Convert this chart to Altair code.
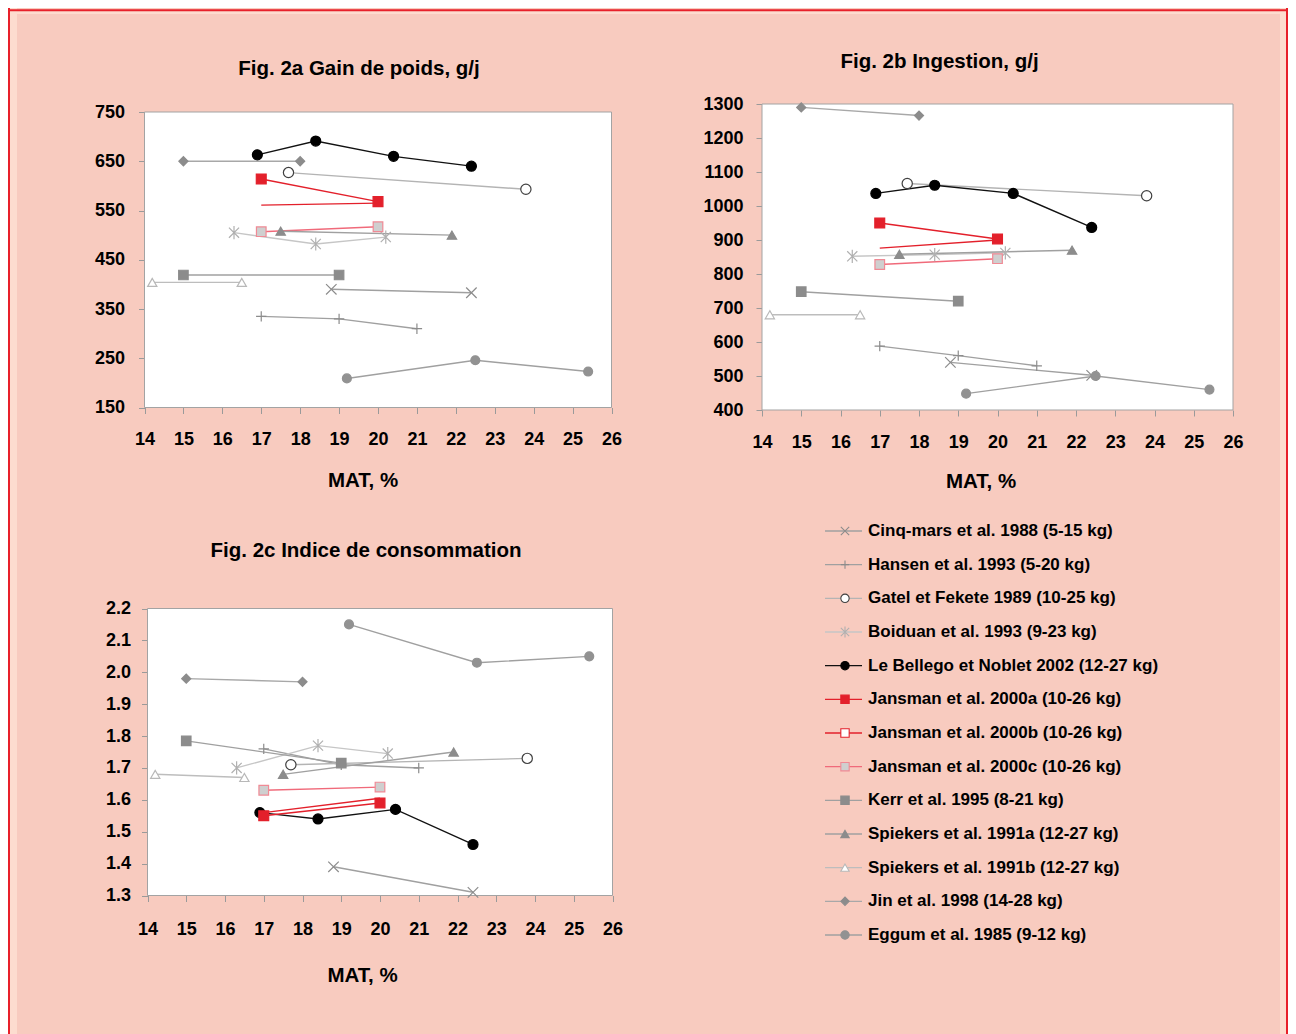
import altair as alt
import pandas as pd

# ---------------- data ----------------
SERIES = [
    "Cinq-mars et al. 1988 (5-15 kg)",
    "Hansen et al. 1993 (5-20 kg)",
    "Gatel et Fekete 1989 (10-25 kg)",
    "Boiduan et al. 1993 (9-23 kg)",
    "Le Bellego et Noblet 2002 (12-27 kg)",
    "Jansman et al. 2000a (10-26 kg)",
    "Jansman et al. 2000b (10-26 kg)",
    "Jansman et al. 2000c (10-26 kg)",
    "Kerr et al. 1995 (8-21 kg)",
    "Spiekers et al. 1991a (12-27 kg)",
    "Spiekers et al. 1991b (12-27 kg)",
    "Jin et al. 1998 (14-28 kg)",
    "Eggum et al. 1985 (9-12 kg)",
]
MAT = [
    [18.8, 22.4],
    [17.0, 19.0, 21.0],
    [17.7, 23.8],
    [16.3, 18.4, 20.2],
    [16.9, 18.4, 20.4, 22.4],
    [17.0, 20.0],
    [17.0, 20.0],
    [17.0, 20.0],
    [15.0, 19.0],
    [17.5, 21.9],
    [14.2, 16.5],
    [15.0, 18.0],
    [19.2, 22.5, 25.4],
]
GAIN = [
    [390, 383],
    [335, 330, 310],
    [627, 593],
    [505, 482, 496],
    [663, 691, 660, 640],
    [614, 568],
    [561, 565],
    [507, 517],
    [419, 419],
    [508, 500],
    [404, 404],
    [650, 650],
    [209, 246, 223],
]
INGESTION = [
    [540, 502],
    [588, 560, 530],
    [1066, 1030],
    [852, 857, 862],
    [1037, 1061, 1037, 937],
    [950, 903],
    [876, 900],
    [828, 845],
    [748, 720],
    [858, 870],
    [680, 680],
    [1290, 1266],
    [448, 500, 460],
]
IC = [
    [1.39, 1.31],
    [1.76, 1.71, 1.70],
    [1.71, 1.73],
    [1.70, 1.77, 1.745],
    [1.56, 1.54, 1.57, 1.46],
    [1.55, 1.59],
    [1.56, 1.605],
    [1.63, 1.64],
    [1.785, 1.715],
    [1.68, 1.75],
    [1.68, 1.67],
    [1.98, 1.97],
    [2.15, 2.03, 2.05],
]
X_DOMAIN = [14, 26]
X_TICKS = list(range(14, 27))
Y_TICKS_A = [150, 250, 350, 450, 550, 650, 750]
Y_TICKS_B = [400, 500, 600, 700, 800, 900, 1000, 1100, 1200, 1300]
Y_TICKS_C = [1.3, 1.4, 1.5, 1.6, 1.7, 1.8, 1.9, 2.0, 2.1, 2.2]
TITLES = ["Fig. 2a Gain de poids, g/j", "Fig. 2b Ingestion, g/j",
          "Fig. 2c Indice de consommation"]
X_TITLE = "MAT, %"
NO_MARKER_IN_PLOTS = ["Jansman et al. 2000b (10-26 kg)"]

# ---------------- styles ----------------
XMARK = "M-1,-1L1,1M-1,1L1,-1"
PLUS = "M-1,0L1,0M0,-1L0,1"
STAR = "M-1,-1L1,1M-1,1L1,-1M0,-1.3L0,1.3"
LINE_COLOR = ["#a0a0a0", "#a0a0a0", "#b4b4b4", "#c6c6c6", "#111111", "#e3202b",
              "#e3202b", "#f06a7a", "#a0a0a0", "#a0a0a0", "#bdbdbd", "#a8a8a8", "#a0a0a0"]
LINE_WIDTH = [1.4, 1.4, 1.4, 1.4, 2.3, 1.7, 1.7, 1.7, 1.4, 1.4, 1.4, 1.4, 1.4]
SHAPE = [XMARK, PLUS, "circle", STAR, "circle", "square", "square", "square",
         "square", "triangle-up", "triangle-up", "diamond", "circle"]
FILL = ["#8c8c8c", "#8c8c8c", "#ffffff", "#b0b0b0", "#000000", "#e3202b", "#ffffff",
        "#cfcfcf", "#8c8c8c", "#8c8c8c", "#ffffff", "#8c8c8c", "#929292"]
STROKE = ["#8c8c8c", "#8c8c8c", "#404040", "#b0b0b0", "#000000", "#e3202b", "#e3202b",
          "#f08a95", "#8c8c8c", "#8c8c8c", "#b8b8b8", "#8c8c8c", "#929292"]
SIZE = [110, 80, 140, 110, 190, 115, 100, 115, 115, 120, 120, 100, 190]

PINK = "#f8cbbf"
LIGHT = "#fddccf"
RED = "#e8202a"
FONT = "Liberation Sans"
W, H = 1280, 1026

color_s = alt.Scale(domain=SERIES, range=LINE_COLOR)
sw_s = alt.Scale(domain=SERIES, range=LINE_WIDTH)
shape_s = alt.Scale(domain=SERIES, range=SHAPE)
fill_s = alt.Scale(domain=SERIES, range=FILL)
stroke_s = alt.Scale(domain=SERIES, range=STROKE)
size_s = alt.Scale(domain=SERIES, range=SIZE)


def long_table(values):
    rows = []
    for i, name in enumerate(SERIES):
        for x, v in zip(MAT[i], values[i]):
            rows.append({"series": name, "MAT": x, "v": v})
    return pd.DataFrame(rows)


def panel(values, yticks, xr, yr, xaxis_y, x_title_xy, y_title, y_title_xy,
          xlabpad, ylabpad, fmt):
    df = long_table(values)
    xs = alt.Scale(domain=X_DOMAIN, range=xr, nice=False, zero=False)
    ys = alt.Scale(domain=[yticks[0], yticks[-1]], range=yr, nice=False, zero=False)
    ax_x = alt.Axis(orient="bottom", offset=xaxis_y - H, values=X_TICKS, format="d",
                    labelFlush=False, labelOverlap=False, labelBaseline="middle",
                    labelPadding=xlabpad, tickSize=6, title=X_TITLE,
                    titleX=x_title_xy[0], titleY=x_title_xy[1], titleAlign="center",
                    titleBaseline="middle", titleAngle=0)
    ax_y = alt.Axis(orient="left", offset=-xr[0], values=yticks, format=fmt,
                    labelOverlap=False, labelPadding=ylabpad, tickSize=6,
                    title=y_title, titleAngle=0, titleX=y_title_xy[0],
                    titleY=y_title_xy[1], titleAlign="center", titleBaseline="middle")
    frame = pd.DataFrame({"x": [X_DOMAIN[0]], "x2": [X_DOMAIN[1]],
                          "y": [yticks[0]], "y2": [yticks[-1]]})
    bg = alt.Chart(frame).mark_rect(fill="white", stroke="#a3a3a3", strokeWidth=1).encode(
        x=alt.X("x:Q", scale=xs, axis=ax_x), x2="x2:Q",
        y=alt.Y("y:Q", scale=ys, axis=ax_y), y2="y2:Q")
    lines = alt.Chart(df).mark_line().encode(
        x=alt.X("MAT:Q", scale=xs, axis=ax_x),
        y=alt.Y("v:Q", scale=ys, axis=ax_y),
        color=alt.Color("series:N", scale=color_s, legend=None),
        strokeWidth=alt.StrokeWidth("series:N", scale=sw_s, legend=None))
    pts = alt.Chart(df[~df["series"].isin(NO_MARKER_IN_PLOTS)]).mark_point(
        filled=True, opacity=1, strokeWidth=1.2).encode(
        x=alt.X("MAT:Q", scale=xs, axis=ax_x),
        y=alt.Y("v:Q", scale=ys, axis=ax_y),
        shape=alt.Shape("series:N", scale=shape_s, legend=None),
        fill=alt.Fill("series:N", scale=fill_s, legend=None),
        stroke=alt.Stroke("series:N", scale=stroke_s, legend=None),
        size=alt.Size("series:N", scale=size_s, legend=None))
    return alt.layer(bg, lines, pts)


pa = panel(GAIN, Y_TICKS_A, [136.5, 603.5], [399.5, 104], 399.5, (354.5, 72.5),
           TITLES[0], (214, 60), 25.5, 14, "d")
pb = panel(INGESTION, Y_TICKS_B, [754, 1225], [402, 96], 402, (972.5, 71),
           TITLES[1], (177, 53), 26, 13, "d")
pc = panel(IC, Y_TICKS_C, [139.5, 604.5], [887.5, 600.5], 887.5, (354, 80),
           TITLES[2], (218, 542), 27.5, 11, ".1f")

# ---------------- legend ----------------
leg_df = pd.DataFrame({"series": SERIES})
ly = alt.Y("series:N", scale=alt.Scale(type="point", domain=SERIES, range=[523, 927],
                                      padding=0), axis=None)
leg_rule = alt.Chart(leg_df).mark_rule().encode(
    x=alt.value(817), x2=alt.value(854), y=ly,
    color=alt.Color("series:N", scale=color_s, legend=None),
    strokeWidth=alt.StrokeWidth("series:N", scale=sw_s, legend=None))
leg_pts = alt.Chart(leg_df).mark_point(filled=True, opacity=1, strokeWidth=1.1).encode(
    x=alt.value(837), y=ly,
    shape=alt.Shape("series:N", scale=shape_s, legend=None),
    fill=alt.Fill("series:N", scale=fill_s, legend=None),
    stroke=alt.Stroke("series:N", scale=stroke_s, legend=None),
    size=alt.value(70))
leg_txt = alt.Chart(leg_df).mark_text(
    align="left", baseline="middle", font=FONT, fontWeight="bold", fontSize=17,
    color="black").encode(x=alt.value(860), y=ly, text="series:N")
legend = alt.layer(leg_rule, leg_pts, leg_txt)

# ---------------- frame ----------------
one = alt.Data(values=[{}])


def vrule(x, color, w):
    return alt.Chart(one).mark_rule(color=color, strokeWidth=w).encode(
        x=alt.value(x), y=alt.value(0), y2=alt.value(H))


def hrule(y, color, w, x0, x1):
    return alt.Chart(one).mark_rule(color=color, strokeWidth=w).encode(
        y=alt.value(y), x=alt.value(x0), x2=alt.value(x1))


borders = [
    vrule(5.5, LIGHT, 7), vrule(1275, LIGHT, 6), hrule(4.6, LIGHT, 2.7, 2, 1278),
    vrule(1, RED, 2), vrule(1279, RED, 2), hrule(2.3, RED, 2, 0, 1280),
]

chart = alt.layer(*borders, pa, pb, pc, legend).resolve_scale(
    x="independent", y="independent"
).properties(
    width=W, height=H, padding=0, autosize=alt.AutoSizeParams(type="none"),
    background=PINK
).configure_view(stroke=None).configure_axis(
    labelFont=FONT, labelFontWeight="bold", labelFontSize=18, labelColor="#000000",
    titleFont=FONT, titleFontWeight="bold", titleFontSize=20.5, titleColor="#000000",
    tickColor="#9a9a9a", tickWidth=1, domain=False, grid=False
)

chart.save("out.html", embed_options={"renderer": "svg", "actions": False})
